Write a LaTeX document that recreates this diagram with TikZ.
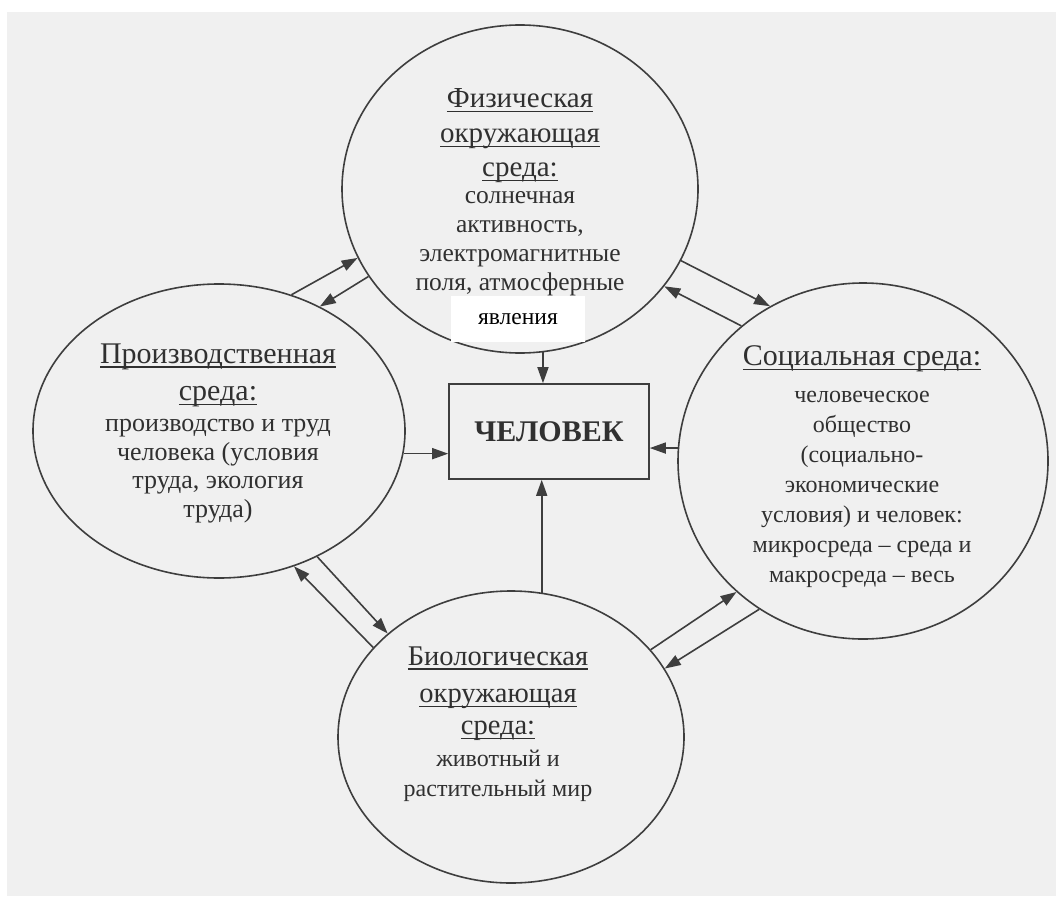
\documentclass[tikz,border=0pt]{standalone}
\usepackage{fontspec}
\setmainfont{Liberation Serif}
\usetikzlibrary{shapes.geometric,arrows.meta}
\definecolor{pagegray}{RGB}{240,240,240}
\definecolor{inkgray}{RGB}{62,62,62}
\definecolor{textgray}{RGB}{48,48,48}
% underlined heading line
\newcommand{\envtitle}[2][30]{{\fontsize{#1}{30}\selectfont\setbox0\hbox{#2}\rlap{\rule[-4.5pt]{\wd0}{1.2pt}}\box0}}

\begin{document}
\begin{tikzpicture}[x=1pt, y=-1pt,
    env/.style={ellipse, draw=inkgray, line width=1.6pt, inner sep=0pt},
    envtxt/.style={align=center, text=textgray, inner sep=0pt, font=\fontsize{24}{30}\selectfont},
    arr/.style={draw=inkgray, line width=1.6pt, -{Triangle[length=16pt,width=11pt]}}]
    \useasboundingbox (0,0) rectangle (1056,896);
    % scanned page
    \fill[pagegray] (7,12) rectangle (1056,896);

    % Environments
    \node[env, minimum width=356pt, minimum height=328pt] (T) at (520,189) {};
    \node[env, minimum width=372pt, minimum height=294pt] (L) at (219,431) {};
    \node[env, minimum width=370pt, minimum height=356pt] (R) at (863,461) {};
    \node[env, minimum width=346pt, minimum height=292pt] (B) at (511,737) {};

    % Man
    \node[draw=inkgray, line width=1.6pt, minimum width=200pt, minimum height=95pt,
          text=textgray, font=\fontsize{30}{36}\selectfont\bfseries] (C) at (549,431.5) {ЧЕЛОВЕК};

    % Texts
    \node[envtxt, font=\fontsize{25.5}{29}\selectfont] (Ttxt) at (520,192) {\envtitle[29]{Физическая}\\[6pt]
        \envtitle[29]{окружающая}\\[5pt]
        \envtitle[29]{среда:}\\[-2pt]
        солнечная\\ активность,\\ электромагнитные\\ поля, атмосферные};
    \node[fill=white, text=black, minimum width=134pt, minimum height=46pt, inner sep=0pt,
          font=\fontsize{23.5}{26}\selectfont] (yav) at (518,319) {явления};

    \node[envtxt, font=\fontsize{26}{28.5}\selectfont] (Ltxt) at (218,433) {\envtitle{Производственная}\\[9pt]
        \envtitle{среда:}\\[2.5pt]
        производство и труд\\ человека (условия\\ труда, экология\\ труда)};

    \node[envtxt] (Rtxt) at (862,467) {\envtitle{Социальная среда:}\\[7pt]
        человеческое\\ общество\\ (социально-\\ экономические\\
        условия) и человек:\\ микросреда – среда и\\ макросреда – весь};

    \node[envtxt, font=\fontsize{24}{30.5}\selectfont] (Btxt) at (498,724) {\envtitle[28.5]{Биологическая}\\[7pt]
        \envtitle[28.5]{окружающая}\\[1.5pt]
        \envtitle[28.5]{среда:}\\[1pt]
        животный и\\ растительный мир};

    % Influence on man
    \draw[arr] (T.-82) -- (T.-82 |- C.north);
    \draw[arr] (B.78) -- (B.78 |- C.south);
    \draw[arr] (L.-7.5) -- (L.-7.5 -| C.west);
    \draw[arr] (R.176) -- (R.176 -| C.east);

    % Links between environments
    \draw[arr] (L.62) -- (T.203);
    \draw[arr] (T.210) -- (L.51);
    \draw[arr] (T.-24.5) -- (R.121.3);
    \draw[arr] (R.132) -- (T.-34);
    \draw[arr] (L.-52.3) -- (B.140);
    \draw[arr] (B.147.4) -- (L.-61);
    \draw[arr] (B.32.3) -- (R.-134);
    \draw[arr] (R.-125.4) -- (B.24.8);
\end{tikzpicture}
\end{document}
